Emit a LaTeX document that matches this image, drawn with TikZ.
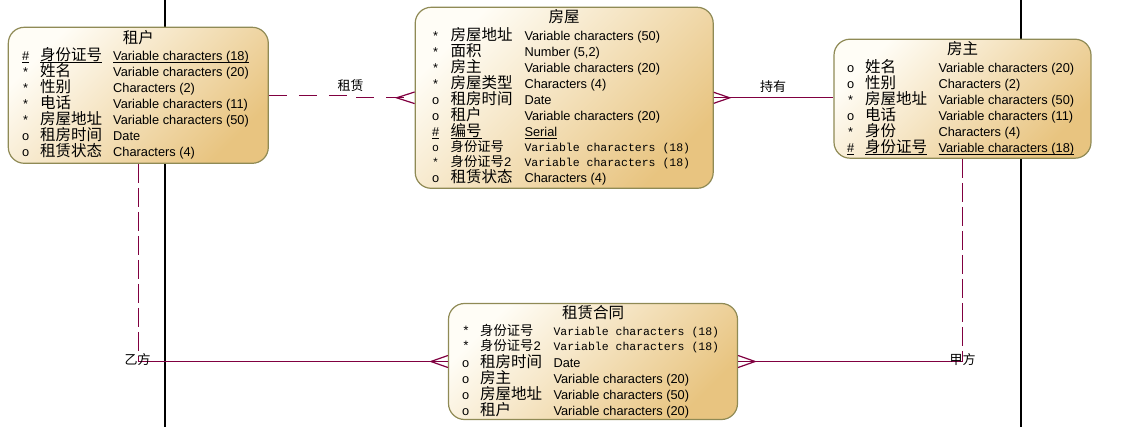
\documentclass[tikz,border=0pt]{standalone}
\usepackage{fontspec}
\setmainfont{Liberation Sans}
\newfontfamily\cjk{Noto Sans CJK SC}
\newfontfamily\monof{Liberation Mono}
\usetikzlibrary{calc}
\definecolor{lk}{RGB}{128,0,64}
\definecolor{bd}{RGB}{143,138,85}
\definecolor{lt}{RGB}{255,253,246}
\definecolor{dk}{RGB}{232,196,128}
\newcommand\zh[1]{{\cjk\fontsize{15.5}{16}\selectfont #1}}
\newcommand\zhs[1]{{\cjk\fontsize{13.3}{16}\selectfont #1}}
\newcommand\mn[1]{{\monof\fontsize{11.5}{14}\selectfont #1}}
\newcommand\mnb[1]{{\monof\fontsize{13}{14}\selectfont #1}}
\newcommand\ulin[1]{\setbox0\hbox{#1}\rlap{\rule[-2pt]{\wd0}{0.9pt}}\box0}
\newcommand\rw[8]{%
 \node[cell] (#1m) at (#2,{#5+5}) {#6};
 \node[cell] (#1n) at (#3,{#5+5}) {#7};
 \node[cell] (#1t) at (#4,{#5+5}) {#8};}
\tikzset{
 ent/.style={draw=bd, line width=1.2pt, rounded corners=16pt, top color=lt, bottom color=dk, shading angle=45, inner sep=0pt},
 cell/.style={anchor=base west, inner sep=0pt, font=\fontsize{12.8}{15}\selectfont},
 ttl/.style={anchor=center, inner sep=0pt},
 link/.style={draw=lk, line width=1.2pt},
 hdash/.style={dash pattern=on 18pt off 12pt},
 vdash/.style={dash pattern=on 19pt off 5pt},
 lbl/.style={anchor=center, inner sep=0pt, font=\cjk\fontsize{13}{14}\selectfont},
 axisline/.style={draw=black, line width=1.3pt}
}
\begin{document}
\begin{tikzpicture}[x=1pt,y=-1pt]
\useasboundingbox (0,0) rectangle (1131,427);
% background vertical lines
\coordinate (a1) at (165,0); \coordinate (a2) at (165,427);
\coordinate (b1) at (1021,0); \coordinate (b2) at (1021,427);
\draw[axisline] (a1) -- (a2);
\draw[axisline] (b1) -- (b2);

% entities
\node[ent, minimum width=260pt, minimum height=136pt] (zuhu) at (138.3,95.3) {};
\node[ent, minimum width=298pt, minimum height=181pt] (fangwu) at (564.2,97.8) {};
\node[ent, minimum width=257pt, minimum height=119pt] (fangzhu) at (962.5,98.7) {};
\node[ent, minimum width=289pt, minimum height=116pt] (ht) at (593,361.5) {};

% connectors
\coordinate (st) at (352,95.3);
\draw[link,hdash] (zuhu.east) -- (st) |- (fangwu.west);
\draw[link] (fangwu.west) ++(0,-5.8) -- ++(-18,5.8) -- ++(18,5.8);
\draw[link] (fangwu.east) -- (fangwu.east -| fangzhu.west);
\draw[link] (fangwu.east) ++(0,-5.5) -- ++(16,5.5) -- ++(-16,5.5);
\coordinate (yi) at (zuhu.south |- ht.west);
\coordinate (jia) at (fangzhu.south |- ht.east);
\draw[link,vdash] (zuhu.south) -- (yi);
\draw[link] (yi) -- (ht.west);
\draw[link,vdash] (fangzhu.south) -- (jia);
\draw[link] (jia) -- (ht.east);
\draw[link] (ht.west) ++(0,-6) -- ++(-17,6) -- ++(17,6);
\draw[link] (ht.east) ++(0,-6) -- ++(17,6) -- ++(-17,6);

% labels
\node[lbl] (l1) at (350.5,86) {租赁};
\node[lbl] (l2) at (773,87) {持有};
\node[lbl] (l3) at (137.5,360) {乙方};
\node[lbl] (l4) at (962.5,360) {甲方};

% 租户
\node[ttl] (zuhuT) at (138.3,37.3) {\zh{租户}};
\rw{z1}{22}{40}{113}{56}{\ulin{\#}}{\ulin{\zh{身份证号}}}{\ulin{Variable characters (18)}}
\rw{z2}{23}{40}{113}{72}{*}{\zh{姓名}}{Variable characters (20)}
\rw{z3}{23}{40}{113}{88}{*}{\zh{性别}}{Characters (2)}
\rw{z4}{23}{40}{113}{104}{*}{\zh{电话}}{Variable characters (11)}
\rw{z5}{23}{40}{113}{120}{*}{\zh{房屋地址}}{Variable characters (50)}
\rw{z6}{22}{40}{113}{136}{o}{\zh{租房时间}}{Date}
\rw{z7}{22}{40}{113}{152}{o}{\zh{租赁状态}}{Characters (4)}

% 房屋
\node[ttl] (fangwuT) at (564.2,16.5) {\zh{房屋}};
\rw{f1}{433}{450.5}{524.3}{36}{*}{\zh{房屋地址}}{Variable characters (50)}
\rw{f2}{433}{450.5}{524.3}{52}{*}{\zh{面积}}{Number (5,2)}
\rw{f3}{433}{450.5}{524.3}{68}{*}{\zh{房主}}{Variable characters (20)}
\rw{f4}{433}{450.5}{524.3}{84}{*}{\zh{房屋类型}}{Characters (4)}
\rw{f5}{432}{450.5}{524.3}{100}{o}{\zh{租房时间}}{Date}
\rw{f6}{432}{450.5}{524.3}{116}{o}{\zh{租户}}{Variable characters (20)}
\rw{f7}{432}{450.5}{524.3}{132}{\ulin{\#}}{\ulin{\zh{编号}}}{\ulin{Serial}}
\rw{f8}{432}{450.5}{524.3}{147}{\mn{o}}{\zhs{身份证号}}{\mn{Variable characters (18)}}
\rw{f9}{432}{450.5}{524.3}{162}{\mn{*}}{\zhs{身份证号}\mnb{2}}{\mn{Variable characters (18)}}
\rw{f10}{432}{450.5}{524.3}{178}{o}{\zh{租赁状态}}{Characters (4)}

% 房主
\node[ttl] (fangzhuT) at (962.5,48.3) {\zh{房主}};
\rw{h1}{847}{865}{938.3}{68}{o}{\zh{姓名}}{Variable characters (20)}
\rw{h2}{847}{865}{938.3}{84}{o}{\zh{性别}}{Characters (2)}
\rw{h3}{848}{865}{938.3}{100}{*}{\zh{房屋地址}}{Variable characters (50)}
\rw{h4}{847}{865}{938.3}{116}{o}{\zh{电话}}{Variable characters (11)}
\rw{h5}{848}{865}{938.3}{132}{*}{\zh{身份}}{Characters (4)}
\rw{h6}{847}{865}{938.3}{148}{\ulin{\#}}{\ulin{\zh{身份证号}}}{\ulin{Variable characters (18)}}

% 租赁合同
\node[ttl] (htT) at (593,313) {\zh{租赁合同}};
\rw{c1}{462}{480}{553.3}{330}{\mnb{*}}{\zhs{身份证号}}{\mn{Variable characters (18)}}
\rw{c2}{462}{480}{553.3}{345.5}{\mnb{*}}{\zhs{身份证号}\mnb{2}}{\mn{Variable characters (18)}}
\rw{c3}{462}{480}{553.3}{362}{o}{\zh{租房时间}}{Date}
\rw{c4}{462}{480}{553.3}{378}{o}{\zh{房主}}{Variable characters (20)}
\rw{c5}{462}{480}{553.3}{394.5}{o}{\zh{房屋地址}}{Variable characters (50)}
\rw{c6}{462}{480}{553.3}{410.5}{o}{\zh{租户}}{Variable characters (20)}
\end{tikzpicture}
\end{document}
